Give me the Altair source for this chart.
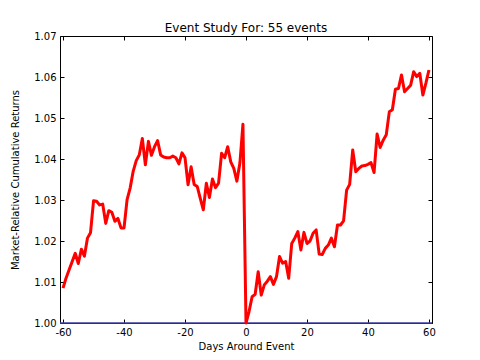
import altair as alt
import pandas as pd

# ---- data ----
days = list(range(-60, 61))
returns = [
    1.0085, 1.0110, 1.0130, 1.0150, 1.0170, 1.0145, 1.0180, 1.0163, 1.0207, 1.0220,  # -60..-51
    1.0298, 1.0297, 1.0288, 1.0290, 1.0243, 1.0274, 1.0270, 1.0248, 1.0255, 1.0232,  # -50..-41
    1.0232, 1.0301, 1.0329, 1.0370, 1.0396, 1.0410, 1.0450, 1.0386, 1.0443, 1.0409,  # -40..-31
    1.0430, 1.0445, 1.0410, 1.0405, 1.0403, 1.0403, 1.0407, 1.0403, 1.0388, 1.0415,  # -30..-21
    1.0403, 1.0337, 1.0381, 1.0338, 1.0333, 1.0304, 1.0276, 1.0341, 1.0306, 1.0351,  # -20..-11
    1.0330, 1.0341, 1.0414, 1.0403, 1.0430, 1.0393, 1.0377, 1.0346, 1.0390, 1.0485,  # -10..-1
    1.0000,                                                                          # 0
    1.0028, 1.0064, 1.0070, 1.0125, 1.0068, 1.0093, 1.0102, 1.0113, 1.0094, 1.0113,  # 1..10
    1.0162, 1.0146, 1.0150, 1.0109, 1.0194, 1.0207, 1.0223, 1.0178, 1.0221, 1.0194,  # 11..20
    1.0200, 1.0219, 1.0227, 1.0168, 1.0167, 1.0182, 1.0190, 1.0207, 1.0186, 1.0239,  # 21..30
    1.0239, 1.0249, 1.0324, 1.0338, 1.0422, 1.0369, 1.0377, 1.0383, 1.0384, 1.0387,  # 31..40
    1.0391, 1.0367, 1.0461, 1.0428, 1.0446, 1.0459, 1.0515, 1.0520, 1.0570, 1.0572,  # 41..50
    1.0605, 1.0564, 1.0572, 1.0580, 1.0613, 1.0601, 1.0609, 1.0556, 1.0585, 1.0617,  # 51..60
]
assert len(days) == len(returns)

x_ticks = [-60, -40, -20, 0, 20, 40, 60]
y_ticks = [1.00, 1.01, 1.02, 1.03, 1.04, 1.05, 1.06, 1.07]
baseline = [1.0]
x_domain = [-61, 61]
y_domain = [1.00, 1.07]

chart_title = "Event Study For: 55 events"
x_title = "Days Around Event"
y_title = "Market-Relative Cumulative Returns"

FONT = "DejaVu Sans"

df = pd.DataFrame({"day": days, "ret": returns})
base_df = pd.DataFrame({"level": baseline})

xscale = alt.Scale(domain=x_domain, nice=False, zero=False)
yscale = alt.Scale(domain=y_domain, nice=False, zero=False)

common_axis = dict(domain=False, grid=False, offset=-4, tickSize=4,
                   tickColor="black", tickWidth=1,
                   labelFont=FONT, labelFontSize=10, labelColor="black",
                   titleFont=FONT, titleFontSize=10, titleFontWeight="normal",
                   titleColor="black")

rule = alt.Chart(base_df).mark_rule(color="#3c3ca0", strokeWidth=1.5).encode(
    y=alt.Y("level:Q", scale=yscale, axis=None)
)

line = alt.Chart(df).mark_line(color="#ff0000", strokeWidth=3, strokeJoin="round").encode(
    x=alt.X("day:Q", scale=xscale,
            axis=alt.Axis(orient="bottom", values=x_ticks, title=x_title,
                          labelExpr="'' + datum.value", labelPadding=4,
                          titlePadding=4, **common_axis)),
    y=alt.Y("ret:Q", scale=yscale,
            axis=alt.Axis(orient="left", values=y_ticks, format=".2f",
                          title=y_title, labelPadding=4, titlePadding=13,
                          **common_axis)),
)

ticks2 = alt.Chart(df).mark_point(opacity=0).encode(
    x=alt.X("day:Q", scale=xscale,
            axis=alt.Axis(orient="top", values=x_ticks, labels=False, title=None,
                          **common_axis)),
    y=alt.Y("ret:Q", scale=yscale,
            axis=alt.Axis(orient="right", values=y_ticks, labels=False, title=None,
                          **common_axis)),
)

chart = alt.layer(rule, line, ticks2).resolve_scale(
    x="independent", y="independent"
).resolve_axis(
    x="independent", y="independent"
).properties(
    width=372,
    height=287,
    background="white",
    title=alt.TitleParams(text=chart_title, font=FONT, fontSize=12,
                          fontWeight="normal", color="black", offset=-4,
                          anchor="middle"),
    autosize=alt.AutoSizeParams(type="none"),
    padding={"left": 52, "top": 28, "right": 40, "bottom": 37},
).configure_view(
    stroke="black", strokeWidth=1
)

chart.save("out.html", embed_options={"renderer": "svg", "actions": False})
